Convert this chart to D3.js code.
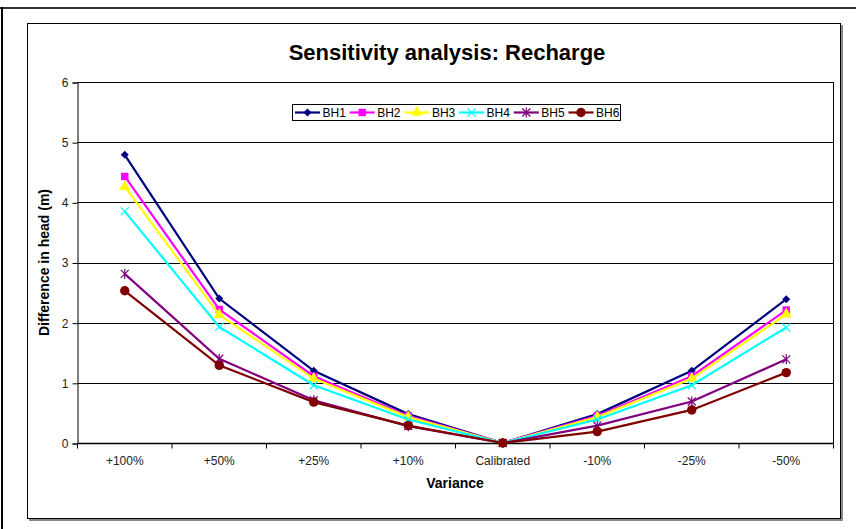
<!DOCTYPE html>
<html>
<head>
<meta charset="utf-8">
<script src="https://cdn.jsdelivr.net/npm/d3@7"></script>
<style>
  body { margin: 0; background: #fff; }
  svg text { font-family: "Liberation Sans", Arial, sans-serif; }
</style>
</head>
<body>
<svg id="chart" width="856" height="529"></svg>
<script>
// data
const categories = ['+100%', '+50%', '+25%', '+10%', 'Calibrated', '-10%', '-25%', '-50%'];
const seriesNames = ['BH1', 'BH2', 'BH3', 'BH4', 'BH5', 'BH6'];
const bh1 = [4.79, 2.40, 1.20, 0.48, 0, 0.48, 1.20, 2.39];
const bh2 = [4.43, 2.22, 1.11, 0.45, 0, 0.45, 1.11, 2.21];
const bh3 = [4.26, 2.13, 1.07, 0.43, 0, 0.43, 1.07, 2.14];
const bh4 = [3.85, 1.93, 0.96, 0.39, 0, 0.39, 0.96, 1.92];
const bh5 = [2.81, 1.40, 0.71, 0.28, 0, 0.29, 0.69, 1.39];
const bh6 = [2.53, 1.29, 0.68, 0.29, 0, 0.19, 0.55, 1.17];
const yTicks = [0, 1, 2, 3, 4, 5, 6];

const seriesValues = [bh1, bh2, bh3, bh4, bh5, bh6];
const colors = ['#000080', '#FF00FF', '#FFFF00', '#00FFFF', '#800080', '#800000'];
const shapes = ['diamond', 'square', 'triangle', 'cross', 'star', 'circle'];

const svg = d3.select('#chart');

//outer frame
svg.append('line').attr('x1', 0).attr('x2', 856).attr('y1', 8).attr('y2', 8)
    .attr('stroke', '#333').attr('stroke-width', 2);
svg.append('line').attr('x1', 2).attr('x2', 2).attr('y1', 7).attr('y2', 529)
    .attr('stroke', '#000').attr('stroke-width', 2);

//chart box with a grey shadow
svg.append('rect').attr('x', 29).attr('y', 25).attr('width', 814).attr('height', 496)
    .attr('fill', '#888');
svg.append('rect').attr('x', 27.5).attr('y', 23.5).attr('width', 813).attr('height', 495)
    .attr('fill', '#fff').attr('stroke', '#000').attr('stroke-width', 1);

const margin = {l: 77.5, t: 82, r: 833.5, b: 443};

let scaleX = d3.scaleBand()
    .domain(categories)
    .range([margin.l, margin.r]);

let scaleY = d3.scaleLinear()
    .domain([0, 6])
    .range([margin.b, margin.t]);

const cx = d => scaleX(d) + scaleX.bandwidth() / 2;

//gridlines
svg.append('g')
    .selectAll('line')
    .data(yTicks.filter(d => d > 0))
    .join('line')
    .attr('x1', margin.l).attr('x2', margin.r)
    .attr('y1', d => Math.round(scaleY(d)) + 0.5)
    .attr('y2', d => Math.round(scaleY(d)) + 0.5)
    .attr('stroke', '#000').attr('stroke-width', 1);

//plot area right border
svg.append('line')
    .attr('x1', margin.r).attr('x2', margin.r)
    .attr('y1', scaleY(6)).attr('y2', margin.b)
    .attr('stroke', '#000');

//y axis
let axisY = d3.axisLeft(scaleY).tickValues(yTicks).tickFormat(d3.format('d')).tickSize(5).tickPadding(4);
let gy = svg.append('g')
    .attr('transform', `translate(${margin.l}, 0.5)`)
    .call(axisY);
gy.select('.domain').attr('stroke', '#000');
gy.selectAll('.tick line').attr('stroke', '#000');
gy.selectAll('text').attr('font-size', 12).attr('fill', '#222');

//x axis, ticks at category boundaries
let gx = svg.append('g')
    .attr('transform', `translate(0, ${margin.b + 0.5})`);
gx.append('line').attr('x1', margin.l).attr('x2', margin.r).attr('stroke', '#000').attr('stroke-width', 1.5);
gx.selectAll('.tick-x')
    .data(categories.concat(['end']))
    .join('line')
    .attr('class', 'tick-x')
    .attr('x1', (d, i) => i < categories.length ? scaleX(d) : margin.r)
    .attr('x2', (d, i) => i < categories.length ? scaleX(d) : margin.r)
    .attr('y1', 0).attr('y2', 5)
    .attr('stroke', '#000');
gx.selectAll('.label-x')
    .data(categories)
    .join('text')
    .attr('class', 'label-x')
    .attr('x', d => cx(d))
    .attr('y', 21)
    .attr('text-anchor', 'middle')
    .attr('font-size', 12)
    .attr('fill', '#222')
    .text(d => d);

//lines and markers
const line = d3.line()
    .x((d, i) => cx(categories[i]))
    .y(d => scaleY(d));

const symbolFor = {
    diamond: d3.symbol().type(d3.symbolSquare).size(32),
    square: d3.symbol().type(d3.symbolSquare).size(55),
    triangle: d3.symbol().type(d3.symbolTriangle).size(55),
    circle: d3.symbol().type(d3.symbolCircle).size(70)
};

function drawMarker(g, shape, color, x, y) {
    if (shape === 'cross') {
        g.append('path').attr('d', `M${x-4},${y-4}L${x+4},${y+4}M${x-4},${y+4}L${x+4},${y-4}`)
            .attr('stroke', color).attr('stroke-width', 1.2).attr('fill', 'none');
    } else if (shape === 'star') {
        g.append('path').attr('d', `M${x-4},${y-4}L${x+4},${y+4}M${x-4},${y+4}L${x+4},${y-4}M${x},${y-5}L${x},${y+5}`)
            .attr('stroke', color).attr('stroke-width', 1.2).attr('fill', 'none');
    } else {
        let rot = shape === 'diamond' ? ' rotate(45)' : '';
        g.append('path').attr('d', symbolFor[shape]())
            .attr('transform', `translate(${x}, ${y})${rot}`)
            .attr('fill', color);
    }
}

seriesValues.forEach((vals, s) => {
    let g = svg.append('g');
    g.append('path')
        .datum(vals)
        .attr('d', line)
        .attr('fill', 'none')
        .attr('stroke', colors[s])
        .attr('stroke-width', 2.2);
    vals.forEach((v, i) => drawMarker(g, shapes[s], colors[s], cx(categories[i]), scaleY(v)));
});

//legend
let legend = svg.append('g');
legend.append('rect').attr('x', 292.5).attr('y', 104.5).attr('width', 328).attr('height', 16)
    .attr('fill', '#fff').attr('stroke', '#000');
seriesNames.forEach((name, i) => {
    let x0 = 295 + i * 54.7;
    let y0 = 112.5;
    legend.append('line').attr('x1', x0).attr('x2', x0 + 25).attr('y1', y0).attr('y2', y0)
        .attr('stroke', colors[i]).attr('stroke-width', 2.2);
    drawMarker(legend, shapes[i], colors[i], x0 + 12.5, y0);
    legend.append('text').attr('x', x0 + 27.5).attr('y', y0 + 4.5)
        .attr('font-size', 12).attr('fill', '#000').text(name);
});

//title and labels
svg.append('text')
    .attr('x', 447).attr('y', 60)
    .attr('text-anchor', 'middle')
    .attr('font-size', 22).attr('font-weight', 'bold')
    .text('Sensitivity analysis: Recharge');

svg.append('text')
    .attr('x', 455).attr('y', 488)
    .attr('text-anchor', 'middle')
    .attr('font-size', 14).attr('font-weight', 'bold')
    .text('Variance');

svg.append('text')
    .attr('transform', `translate(49, ${(margin.t + margin.b) / 2}) rotate(-90)`)
    .attr('text-anchor', 'middle')
    .attr('font-size', 14).attr('font-weight', 'bold')
    .text('Difference in head (m)');
</script>
</body>
</html>
